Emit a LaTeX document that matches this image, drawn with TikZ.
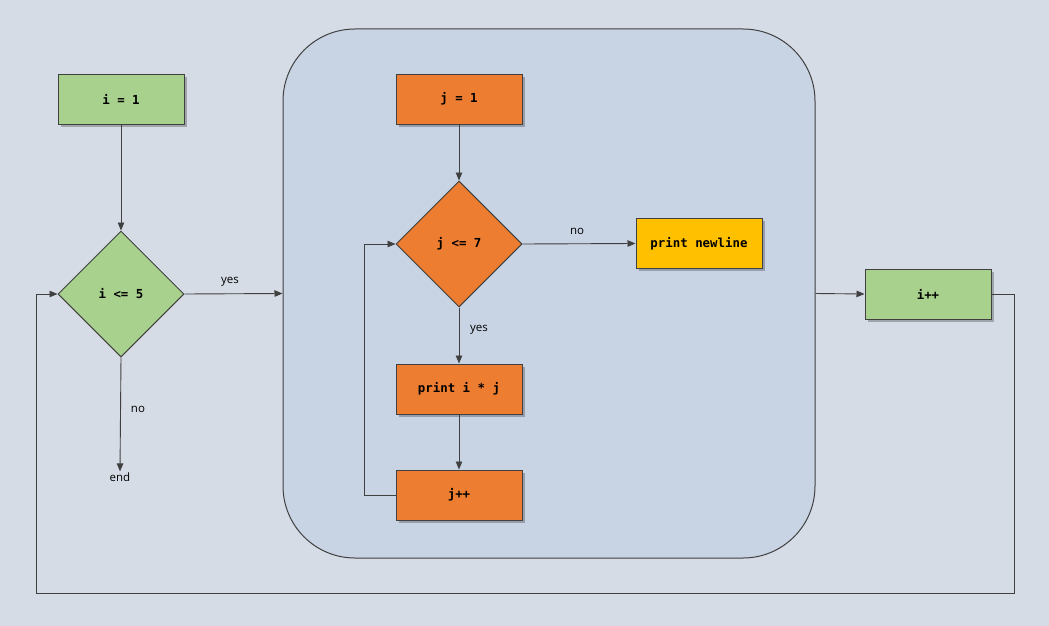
\documentclass[tikz,border=0pt]{standalone}
\usepackage{fontspec}
\setmainfont{Open Sans}
\newfontfamily\codefont{DejaVu Sans Mono}
\usetikzlibrary{shapes.geometric,arrows.meta,shadows}
\definecolor{bgc}{HTML}{D6DCE5}
\definecolor{contc}{HTML}{C8D4E4}
\definecolor{greenc}{HTML}{A9D18E}
\definecolor{orangec}{HTML}{ED7D31}
\definecolor{yellowc}{HTML}{FFC000}
\definecolor{linec}{HTML}{404040}
\tikzset{
  box/.style={rectangle, draw=linec, line width=1pt, minimum width=126pt, minimum height=50pt, inner sep=0pt,
    font=\codefont\bfseries\fontsize{12.4}{14}\selectfont,
    drop shadow={shadow xshift=2.5pt, shadow yshift=-2.5pt, opacity=0.25, fill=black}},
  dia/.style={diamond, draw=linec, line width=1pt, minimum width=126pt, minimum height=126pt, inner sep=0pt,
    font=\codefont\bfseries\fontsize{12.4}{14}\selectfont},
  lbl/.style={font=\fontsize{11.5}{13}\selectfont, text=black, inner sep=1pt},
  arr/.style={draw=linec, line width=0.9pt, -{Triangle[length=8pt,width=6.5pt]}},
  ln/.style={draw=linec, line width=0.9pt}
}
\begin{document}
\begin{tikzpicture}[x=1pt,y=-1pt]
\useasboundingbox (0,0) rectangle (1049,626);
\fill[bgc] (0,0) rectangle (1049,626);
% container
\node[draw=linec, line width=1pt, fill=contc, rounded corners=72pt, minimum width=532pt, minimum height=529pt, inner sep=0pt] (cont) at (549,293.5) {};
% outer nodes
\node[box, fill=greenc] (i1) at (121,99) {i = 1};
\node[dia, fill=greenc] (icond) at (121,294) {i <= 5};
\node[lbl] (iend) at (120,477) {end};
\node[box, fill=greenc] (ipp) at (928,294) {i++};
% inner nodes
\node[box, fill=orangec] (j1) at (459,99) {j = 1};
\node[dia, fill=orangec] (jcond) at (459,244) {j <= 7};
\node[box, fill=yellowc] (pnl) at (699,243.5) {print newline};
\node[box, fill=orangec] (pij) at (459,389) {print i * j};
\node[box, fill=orangec] (jpp) at (459,495) {j++};
% labels
\node[lbl] (lyes1) at (230,282) {yes};
\node[lbl] (lno1) at (138,409) {no};
\node[lbl] (lno2) at (577,231) {no};
\node[lbl] (lyes2) at (479,330) {yes};
% coordinates
\coordinate (c1) at (1014,593);
\coordinate (c2) at (36,593);
\coordinate (c3) at (364,495);
% connectors
\draw[arr] (i1.south) -- (icond.north);
\draw[arr] (icond.south) -- (iend.north);
\draw[arr] (icond.east) -- (cont.west);
\draw[arr] (cont.east) -- (ipp.west);
\draw[arr] (ipp.east) -| (c1) -- (c2) |- (icond.west);
\draw[arr] (j1.south) -- (jcond.north);
\draw[arr] (jcond.east) -- (pnl.west);
\draw[arr] (jcond.south) -- (pij.north);
\draw[arr] (pij.south) -- (jpp.north);
\draw[arr] (jpp.west) -- (c3) |- (jcond.west);
\end{tikzpicture}
\end{document}
